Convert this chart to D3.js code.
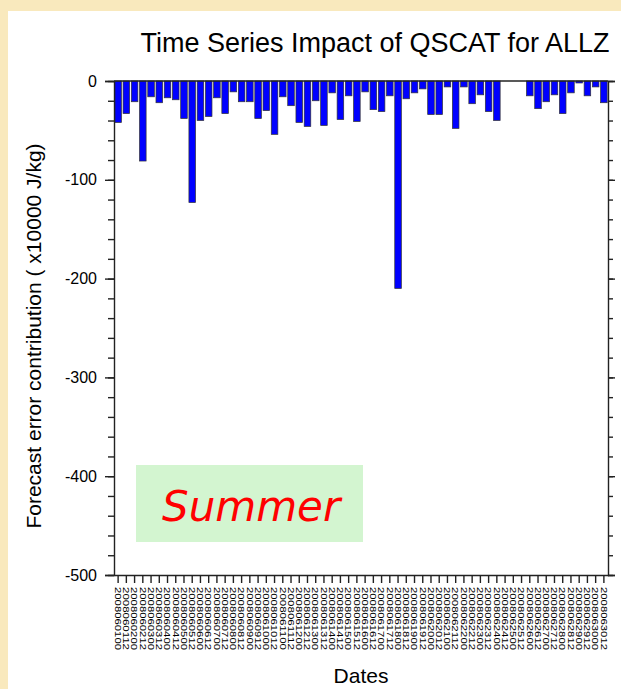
<!DOCTYPE html>
<html>
<head>
<meta charset="utf-8">
<script src="https://cdn.jsdelivr.net/npm/d3@7"></script>
<style>
    body { margin: 0; background: #f9e9bd; }
    svg { display: block; }
</style>
</head>
<body>
<div id="chart"></div>
<script>
// analysis times (YYYYMMDDHH), one bar per cycle
const dates = [
    "2008060100", "2008060112", "2008060200", "2008060212", "2008060300", "2008060312",
    "2008060400", "2008060412", "2008060500", "2008060512", "2008060600", "2008060612",
    "2008060700", "2008060712", "2008060800", "2008060812", "2008060900", "2008060912",
    "2008061000", "2008061012", "2008061100", "2008061112", "2008061200", "2008061212",
    "2008061300", "2008061312", "2008061400", "2008061412", "2008061500", "2008061512",
    "2008061600", "2008061612", "2008061700", "2008061712", "2008061800", "2008061812",
    "2008061900", "2008061912", "2008062000", "2008062012", "2008062100", "2008062112",
    "2008062200", "2008062212", "2008062300", "2008062312", "2008062400", "2008062412",
    "2008062500", "2008062512", "2008062600", "2008062612", "2008062700", "2008062712",
    "2008062800", "2008062812", "2008062900", "2008062912", "2008063000", "2008063012"
];

// forecast error contribution (x10000 J/kg), null = no data
const impact = [
    -42, -33, -21, -81, -16, -22, -17, -19, -38, -123,
    -40, -36, -17, -33, -11, -21, -21, -38, -30, -54,
    -16, -25, -42, -46, -20, -45, -12, -39, -15, -41,
    -11, -29, -31, -15, -210, -18, -12, -8, -34, -34,
    -6, -48, -6, -23, -14, -31, -40, null, null, null,
    -15, -28, -21, -14, -33, -12, -2, -15, -6, -22
];

const yTicks = [0, -100, -200, -300, -400, -500];

const width = 621, height = 689;
const margin = { top: 81, right: 13, bottom: 114, left: 114 };
const innerwidth = width - margin.left - margin.right;
const innerheight = height - margin.top - margin.bottom;

const svg = d3.select('#chart')
    .append('svg')
    .attr('width', width)
    .attr('height', height);

// white slide panel on the beige background
svg.append('rect')
    .attr('x', 8).attr('y', 11)
    .attr('width', width - 8).attr('height', height - 11)
    .attr('fill', '#ffffff');

const g = svg.append('g')
    .attr('transform', 'translate(' + margin.left + ',' + margin.top + ')');

const xscale = d3.scaleBand()
    .domain(dates)
    .range([0, innerwidth])
    .paddingInner(0.2)
    .paddingOuter(0.1);

const yscale = d3.scaleLinear()
    .domain([0, -500])
    .range([0, innerheight]);

// bars hang down from zero
g.selectAll('rect.bar')
    .data(dates.map((d, i) => ({ date: d, value: impact[i] })).filter(d => d.value !== null))
    .enter()
    .append('rect')
    .attr('class', 'bar')
    .attr('x', d => xscale(d.date))
    .attr('y', yscale(0))
    .attr('width', xscale.bandwidth())
    .attr('height', d => yscale(d.value) - yscale(0))
    .attr('fill', '#0000ff')
    .attr('stroke', '#333')
    .attr('stroke-width', 0.7);

const font = '"Liberation Sans", Arial, Helvetica, sans-serif';

// left axis: major + minor ticks
const yaxisG = g.append('g')
    .call(d3.axisLeft(yscale).tickValues(yTicks).tickSize(9).tickPadding(8).tickFormat(d => String(d)));
yaxisG.selectAll('text')
    .attr('font-family', font)
    .attr('font-size', 16)
    .attr('fill', '#000');

g.append('g')
    .call(d3.axisLeft(yscale).ticks(25).tickSize(6).tickFormat(''))
    .select('.domain').remove();

// right axis, no labels
const rightG = g.append('g')
    .attr('transform', 'translate(' + innerwidth + ',0)');
rightG.append('g').call(d3.axisRight(yscale).tickValues(yTicks).tickSize(7).tickFormat(''));
rightG.append('g').call(d3.axisRight(yscale).ticks(25).tickSize(5).tickFormat(''))
    .select('.domain').remove();

// bottom axis with vertical date labels
const xaxisG = g.append('g')
    .attr('transform', 'translate(0,' + innerheight + ')')
    .call(d3.axisBottom(xscale).tickSize(8).tickSizeOuter(0));
xaxisG.selectAll('text')
    .attr('font-family', font)
    .attr('font-size', 9)
    .attr('fill', '#000')
    .attr('text-anchor', 'start')
    .attr('transform', 'rotate(90)')
    .attr('x', 12)
    .attr('y', 0)
    .attr('dy', '0.36em')
    .attr('textLength', 63)
    .attr('lengthAdjust', 'spacingAndGlyphs');

// top frame line
g.append('line')
    .attr('x1', 0).attr('x2', innerwidth)
    .attr('y1', 0).attr('y2', 0);

g.selectAll('.domain, .tick line, line')
    .attr('stroke', '#222')
    .attr('stroke-width', 1.4);

// titles
svg.append('text')
    .attr('x', 375)
    .attr('y', 52)
    .attr('text-anchor', 'middle')
    .attr('font-family', font)
    .attr('font-size', 27)
    .text('Time Series Impact of QSCAT for ALLZ');

svg.append('text')
    .attr('transform', 'translate(41,336) rotate(-90)')
    .attr('text-anchor', 'middle')
    .attr('font-family', font)
    .attr('font-size', 21)
    .text('Forecast error contribution ( x10000 J/kg)');

svg.append('text')
    .attr('x', margin.left + innerwidth / 2)
    .attr('y', 683)
    .attr('text-anchor', 'middle')
    .attr('font-family', font)
    .attr('font-size', 21)
    .text('Dates');

// season tag
svg.append('rect')
    .attr('x', 136).attr('y', 465)
    .attr('width', 227).attr('height', 77)
    .attr('fill', '#d3f5d0');

svg.append('text')
    .attr('x', 162)
    .attr('y', 521)
    .attr('font-family', '"Comic Sans MS", "DejaVu Sans", sans-serif')
    .attr('font-style', 'italic')
    .attr('font-size', 42)
    .attr('fill', '#ff0000')
    .text('Summer');
</script>
</body>
</html>
